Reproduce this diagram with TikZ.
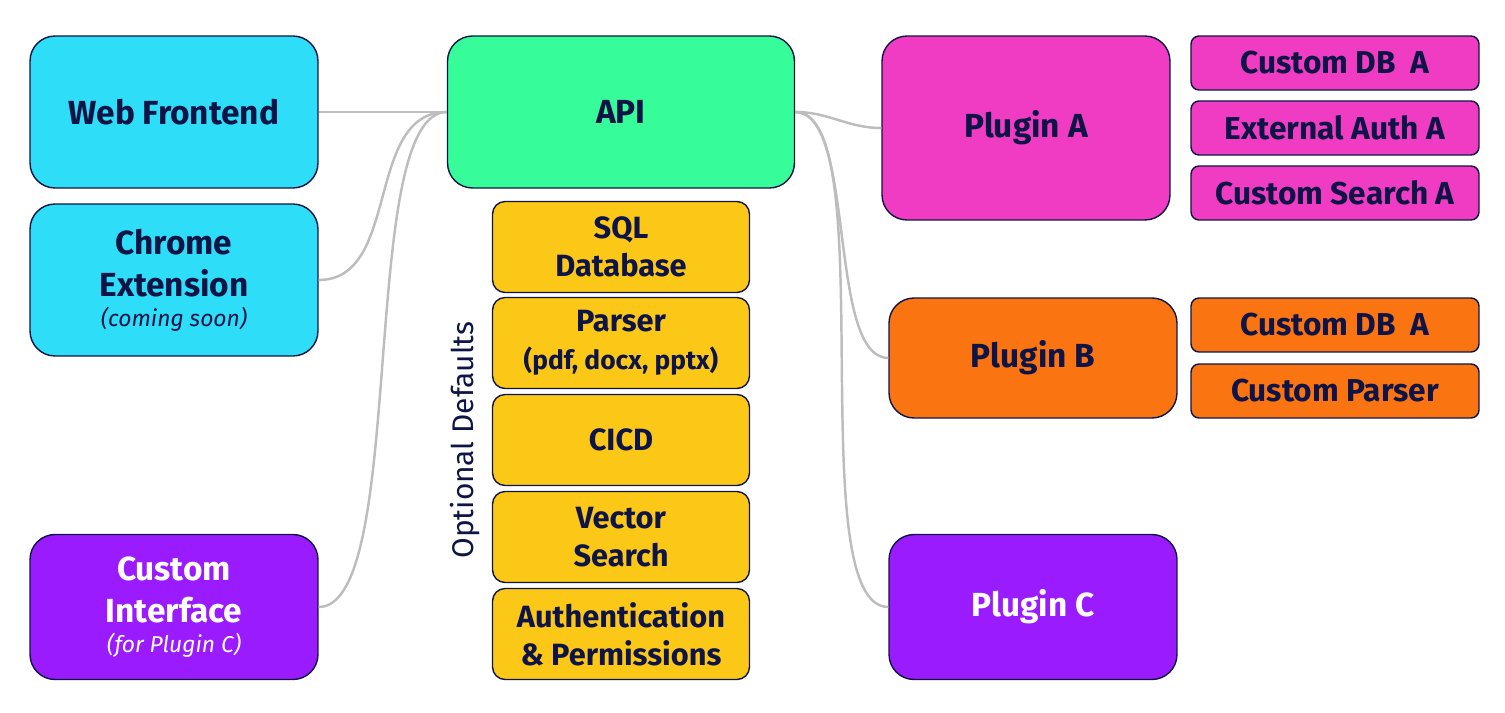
\documentclass[tikz,border=0pt]{standalone}
\usepackage{fontspec}
\setmainfont{Fira Sans}
\definecolor{navy}{HTML}{0E1446}
\definecolor{webcyan}{HTML}{2EDDF8}
\definecolor{apigreen}{HTML}{36FD9A}
\definecolor{plugmag}{HTML}{F03CC2}
\definecolor{plugorange}{HTML}{FB7412}
\definecolor{plugpurple}{HTML}{9B1BFF}
\definecolor{defyellow}{HTML}{FBC817}
\definecolor{linkgray}{HTML}{BDBDBD}
\tikzset{
  bigbox/.style={draw=navy, line width=0.8pt, rounded corners=0.5cm, text=navy, align=center,
    minimum width=5.76cm, font=\fontsize{19}{24}\selectfont\bfseries, inner sep=0pt},
  smallbox/.style={draw=navy, line width=0.8pt, rounded corners=0.16cm, text=navy, align=center,
    minimum width=5.76cm, minimum height=1.08cm, font=\fontsize{18}{20}\selectfont\bfseries, inner sep=0pt},
  defbox/.style={draw=navy, line width=0.8pt, rounded corners=0.25cm, fill=defyellow, text=navy, align=center,
    minimum width=5.14cm, minimum height=1.82cm, font=\fontsize{17.5}{21.5}\selectfont\bfseries, inner sep=0pt},
  link/.style={draw=linkgray, line width=1.4pt}
}
\newcommand{\note}[1]{{\fontsize{13}{15}\selectfont\mdseries\itshape #1}}
\begin{document}
\begin{tikzpicture}[x=0.02cm, y=-0.02cm]
\useasboundingbox (0,0) rectangle (1505,713);

% left side
\node[bigbox, fill=webcyan, minimum height=3.04cm] (web) at (174,112) {Web Frontend};
\node[bigbox, fill=webcyan, minimum height=3.04cm] (chrome) at (174,280) {Chrome\\Extension\\[-7pt]\note{(coming soon)}};
\node[bigbox, fill=plugpurple, text=white, minimum height=2.9cm] (custom) at (174,607) {Custom\\Interface\\[-7pt]\note{(for Plugin C)}};

% api and defaults
\node[bigbox, fill=apigreen, minimum width=6.94cm, minimum height=3.04cm] (api) at (621,112) {API};
\node[defbox] (sql) at (621,247) {SQL\\Database};
\node[defbox] (parser) at (621,343) {Parser\\{\fontsize{15}{18}\selectfont (pdf, docx, pptx)}};
\node[defbox] (cicd) at (621,440) {CICD};
\node[defbox] (vector) at (621,537) {Vector\\Search};
\node[defbox] (auth) at (621,634) {Authentication\\\& Permissions};
\node[rotate=90, text=navy, font=\fontsize{17}{20}\selectfont] (optional) at (465,440) {Optional Defaults};

% plugins
\node[bigbox, fill=plugmag, minimum height=3.68cm] (pluga) at (1026,128) {Plugin A};
\node[bigbox, fill=plugorange, minimum height=2.4cm] (plugb) at (1033,358) {Plugin B};
\node[bigbox, fill=plugpurple, text=white, minimum height=2.9cm] (plugc) at (1033,607) {Plugin C};

\node[smallbox, fill=plugmag] (dba) at (1335,63) {Custom DB\ \ A};
\node[smallbox, fill=plugmag] (autha) at (1335,128) {External Auth A};
\node[smallbox, fill=plugmag] (searcha) at (1335,193) {Custom Search A};
\node[smallbox, fill=plugorange] (dbb) at (1335,325) {Custom DB\ \ A};
\node[smallbox, fill=plugorange] (parserb) at (1335,391) {Custom Parser};

% connectors
\draw[link] (api.west) -- (web.east);
\draw[link] (api.west) to[out=180, in=0] (chrome.east);
\draw[link] (api.west) to[out=180, in=0, looseness=0.45] (custom.east);
\foreach \to/\loose in {pluga/1, plugb/0.6, plugc/0.45}
  \draw[link] (api.east) to[out=0, in=180, looseness=\loose] (\to.west);

\end{tikzpicture}
\end{document}
